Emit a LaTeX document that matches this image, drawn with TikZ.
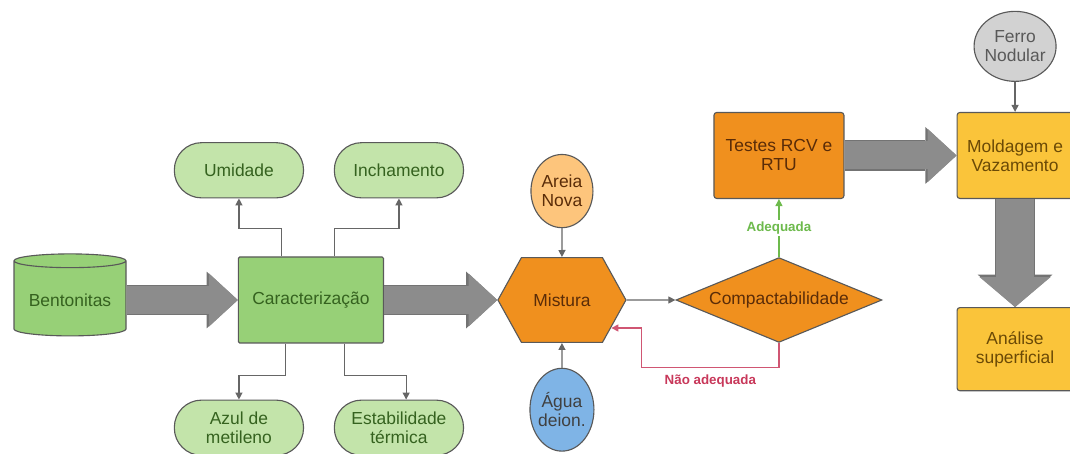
\documentclass[tikz,border=0pt]{standalone}
\usepackage{fontspec}
\setmainfont{Liberation Sans}
\usetikzlibrary{shapes,arrows.meta,positioning}

\definecolor{greenfill}{HTML}{97D077}
\definecolor{greenlight}{HTML}{C3E4AA}
\definecolor{greentext}{HTML}{35621F}
\definecolor{orangefill}{HTML}{F0901E}
\definecolor{orangetext}{HTML}{5A2C08}
\definecolor{sandfill}{HTML}{FDC57C}
\definecolor{waterfill}{HTML}{7FB4E6}
\definecolor{ironfill}{HTML}{D2D2D2}
\definecolor{yellowfill}{HTML}{FAC43A}
\definecolor{yellowtext}{HTML}{6B4A06}
\definecolor{arrowgray}{HTML}{8C8C8C}
\definecolor{okgreen}{HTML}{6DBA4C}
\definecolor{nored}{HTML}{C8385A}

\begin{document}
\begin{tikzpicture}[
    node distance=1.4cm,
    font=\fontsize{12.4}{13.5}\selectfont,
    base/.style={draw=black!65, line width=0.8pt, align=center, text centered},
    stepbox/.style={base, rectangle, rounded corners=2pt, minimum height=2.15cm},
    term/.style={base, rectangle, rounded corners=0.68cm, fill=greenlight, text=greentext, minimum width=3.23cm, minimum height=1.38cm},
    source/.style={base, ellipse, inner xsep=-4pt, inner ysep=0pt},
    link/.style={draw=black!60, line width=0.9pt, -{Triangle[width=5pt,length=5pt]}},
    bigarrow/.style={draw=arrowgray, line width=0.7cm, -{Triangle[width=1.33cm,length=0.72cm,line width=0pt]},
        preaction={draw=black!55, line width=0.76cm, -{Triangle[width=1.42cm,length=0.78cm,line width=0pt]}}},
    downarrow/.style={draw=arrowgray, line width=0.93cm, -{Triangle[width=1.78cm,length=0.75cm,line width=0pt]},
        preaction={draw=black!55, line width=0.99cm, -{Triangle[width=1.87cm,length=0.81cm,line width=0pt]}}},
    lbl/.style={font=\fontsize{9.5}{11}\selectfont\bfseries}
]
\useasboundingbox (0,0) rectangle (26.75,-11.35);

% Bentonite characterisation
\node[base, cylinder, shape border rotate=90, aspect=0.15, fill=greenfill, text=greentext,
      minimum width=2.8cm, minimum height=2.05cm] (bent) at (1.75,-7.5) {Bentonitas};
\node[stepbox, right=2.78cm of bent, fill=greenfill, text=greentext, minimum width=3.63cm, rounded corners=1pt] (carac) {Caracterização};
\node[term, above=1.45cm of carac, xshift=-1.8cm] (umid) {Umidade};
\node[term, above=1.45cm of carac, xshift=2.2cm] (inch) {Inchamento};
\node[term, below=1.4cm of carac, xshift=-1.8cm] (azul) {Azul de\\metileno};
\node[term, below=1.4cm of carac, xshift=2.2cm] (estab) {Estabilidade\\térmica};

% Mixture and tests
\node[base, signal, signal to=west and east, signal pointer angle=122, fill=orangefill, text=orangetext,
      minimum width=3.2cm, minimum height=2.12cm, right=2.83cm of carac] (mist) {Mistura};
\node[source, fill=sandfill, text=orangetext, minimum width=1.55cm, minimum height=1.83cm, above=0.72cm of mist] (areia) {Areia\\Nova};
\node[source, fill=waterfill, text=black!75, minimum width=1.6cm, minimum height=2.07cm, below=0.62cm of mist] (agua) {Água\\deion.};
\node[base, diamond, aspect=2.4, inner sep=0pt, fill=orangefill, text=orangetext,
      minimum width=5.15cm, minimum height=2.12cm, right=1.22cm of mist] (comp) {Compactabilidade};
\node[stepbox, fill=orangefill, text=orangetext, minimum width=3.25cm, above=1.45cm of comp] (testes) {Testes RCV e\\RTU};

% Casting
\node[stepbox, fill=yellowfill, text=yellowtext, minimum width=2.9cm, right=2.8cm of testes] (mold) {Moldagem e\\Vazamento};
\node[source, fill=ironfill, text=black!65, minimum width=2.05cm, minimum height=1.75cm, above=0.75cm of mold] (ferro) {Ferro\\Nodular};
\node[stepbox, fill=yellowfill, text=yellowtext, minimum width=2.9cm, minimum height=2.08cm, below=2.7cm of mold] (anal) {Análise\\superficial};

% Connections
\draw[bigarrow] (bent.east) -- (carac.west);
\draw[bigarrow] (carac.east) -- (mist.west);
\draw[bigarrow] (testes.east) -- (mold.west);
\draw[downarrow] (mold.south) -- (anal.north);

\draw[link] ([xshift=-0.74cm]carac.north) -- ++(0,0.7) -| (umid.south);
\draw[link] ([xshift=0.59cm]carac.north) -- ++(0,0.7) -| (inch.south);
\draw[link] ([xshift=-0.64cm]carac.south) -- ++(0,-0.8) -| (azul.south |- azul.north);
\draw[link] ([xshift=0.84cm]carac.south) -- ++(0,-0.8) -| ([xshift=0.18cm]estab.north);

\draw[link] (areia) -- (mist);
\draw[link] (agua) -- (mist);
\draw[link] (mist) -- (comp);
\draw[link] (ferro) -- (mold);

\draw[link, draw=okgreen] (comp.north) -- node[lbl, text=okgreen, fill=white, inner sep=1pt] {Adequada} (testes.south);
\draw[link, draw=nored!85] (comp.south) -- ++(0,-0.62)
    -| node[lbl, text=nored, pos=0.25, below=1pt] {Não adequada} ([shift={(0.38,-0.7)}]mist.east)
    -- ([shift={(-0.38,-0.7)}]mist.east);

\end{tikzpicture}
\end{document}
